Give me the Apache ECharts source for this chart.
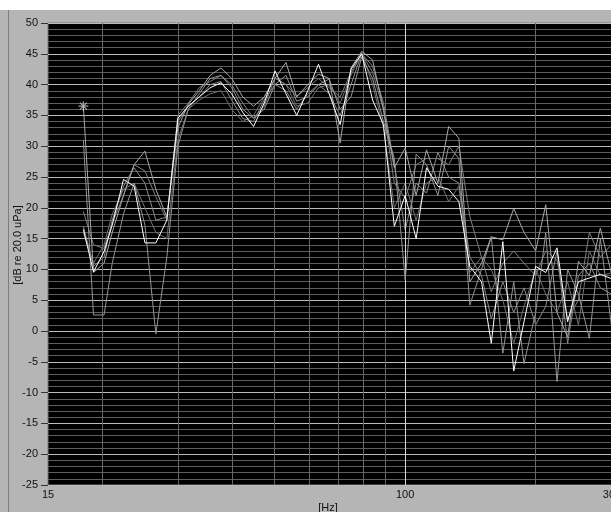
<!DOCTYPE html>
<html>
<head>
<meta charset="utf-8">
<script src="https://cdn.jsdelivr.net/npm/echarts@6/dist/echarts.min.js"></script>
<style>
  html, body { margin: 0; padding: 0; background: #ffffff; }
  #panel { position: absolute; left: 0; top: 10px; width: 611px; height: 502px; background: #b5b5b5; }
  #edge { position: absolute; left: 8px; top: 10px; width: 1px; height: 502px; background: #7d7d7d; }
  #chart { position: absolute; left: 0; top: 0; width: 611px; height: 512px; }
</style>
</head>
<body>
<div id="panel"></div>
<div id="edge"></div>
<div id="chart"></div>
<script>
// Band centre frequencies [Hz]
const freqs = [18.1, 19.1, 20.2, 21.1, 22.4, 23.7, 25.1, 26.6, 28.2, 29.9,
               31.6, 33.5, 35.5, 37.6, 39.8, 42.2, 44.7, 47.3, 50.1, 53.1,
               56.2, 59.6, 63.1, 66.8, 70.8, 75.0, 79.4, 84.1, 89.1, 94.4,
               100, 106, 112, 119, 126, 133, 141, 150, 158, 168,
               178, 188, 200, 211, 224, 237, 251, 266, 282, 299];

// Levels [dB re 20.0 uPa], one array per measurement
const avgLevel = [16.5, 9.6, 12.9, 17.2, 24.6, 23.5, 14.3, 14.3, 18, 34.5,
                  36.5, 38, 39.5, 40.3, 38.5, 35.5, 33.2, 37, 42.2, 38.5,
                  35, 39, 43.3, 38.5, 33.5, 42.5, 45, 37.5, 33.5, 17,
                  22, 15, 26.5, 23.5, 23, 21, 10.5, 8, -2, 14.5,
                  -6.5, 1.5, 10.5, 9.5, 13.5, 1.5, 8, 8.6, 9.2, 8.5];

const run1 = [36.5, 9.5, 11, 16, 22, 27, 29.2, 23, 18.5, 33,
              36.8, 39, 41.5, 42.7, 41, 38, 36.5, 38, 41, 43.6,
              38, 40, 41.7, 41, 30.5, 42.7, 45.4, 44, 36, 26.5,
              29.7, 22, 29.4, 24, 33.2, 31.3, 8, 11, 15.3, 14.8,
              19.9, 16, 13, 20.5, 3, -1, 11.3, 9, 16.7, 9.4];

const run2 = [31, 2.6, 2.6, 11, 19, 24, 17.2, -0.5, 12, 30,
              36, 38.5, 41, 41.5, 39.5, 36, 34.5, 36, 40, 41.5,
              37.3, 38, 40, 40.9, 36, 38, 44.5, 41, 34, 28,
              8.3, 28.7, 27, 22, 30, 28, 4.2, 10, 15.3, -3.6,
              8, -5.3, 3, 16, -8.2, 10, 6, -1.2, 15, 1];

const run3 = [19.4, 14, 13.4, 17.5, 22, 27, 26, 21.8, 18, 35,
              37, 39.5, 40.5, 41.5, 40, 37, 34.6, 36.5, 41.1, 40,
              38.1, 39.5, 41, 39.5, 38, 42, 45, 42, 36, 24,
              21.6, 27, 28, 28, 27, 30, 18.6, 12, 6.4, 11,
              13, 11, 9, 13, 11.5, 2, 5, 16, 12, 14];

const run4 = [17, 10.5, 12, 18, 23.5, 26.5, 24, 18, 18.5, 34,
              36.5, 38, 40, 40.5, 37.5, 34.5, 34, 37.5, 40, 39,
              36, 38.5, 40, 38.5, 35, 40, 45, 43, 37, 27,
              16.4, 24, 22.4, 29, 25, 24, 12, 9, 2, 8,
              3, 7, 1, 4, 13, -2, 9, 11, 7, 6];

const run5 = [16, 11, 14, 19, 23, 24, 20, 16, 15, 31,
              36, 37.5, 38.5, 39, 36, 34, 35, 38, 41, 40,
              36.5, 37, 39.5, 40, 37, 41.5, 45.2, 40, 33, 20,
              24, 18, 24, 25, 21, 23.5, 9.5, 12, 10, 5,
              -2, 4, 10, 6, 3, 8, 1, 13, 9, 9.4];

// y tick labels and extra (non-decade) vertical grid frequencies
const yTicks = [-25, -20, -15, -10, -5, 0, 5, 10, 15, 20, 25, 30, 35, 40, 45, 50];
const vGrid = [20, 30, 40, 50, 60, 70, 80, 90, 200];
const decadeGrid = [100];

const pairs = arr => freqs.map((f, i) => [f, arr[i]]);

const traces = [
  { data: run5, color: '#6f6f6f' },
  { data: run4, color: '#8a8a8a' },
  { data: run3, color: '#7e7e7e' },
  { data: run2, color: '#939393' },
  { data: run1, color: '#a6a6a6' },
  { data: avgLevel, color: '#ffffff' }
];

const asterisk = 'path://M-5,-0.6L5,-0.6L5,0.6L-5,0.6Z M-0.6,-5L0.6,-5L0.6,5L-0.6,5Z ' +
  'M-3.9,-3.1L-3.1,-3.9L3.9,3.1L3.1,3.9Z M3.1,-3.9L3.9,-3.1L-3.1,3.9L-3.9,3.1Z';

const series = [];
series.push({
  type: 'line', data: [], silent: true, z: 1,
  markLine: {
    silent: true, symbol: 'none', animation: false,
    label: { show: false },
    lineStyle: { type: 'solid', width: 1, color: '#666666' },
    data: vGrid.map(v => ({ xAxis: v }))
      .concat(decadeGrid.map(v => ({ xAxis: v, lineStyle: { color: '#d8d8d8', type: 'solid', width: 1 } })))
  }
});
traces.forEach((t, k) => {
  series.push({
    type: 'line', data: pairs(t.data), symbol: 'none', z: 3 + k,
    lineStyle: { color: t.color, width: 1 }, animation: false
  });
});
series.push({
  type: 'scatter', data: [[freqs[0], run1[0]]], symbol: asterisk, symbolSize: 10,
  itemStyle: { color: '#c8c8c8' }, z: 20, animation: false
});

const chart = echarts.init(document.getElementById('chart'), null, { renderer: 'canvas' });
chart.setOption({
  animation: false,
  backgroundColor: 'transparent',
  grid: {
    left: 48, top: 23, right: -1, bottom: 27,
    outerBoundsMode: 'none', containLabel: false,
    show: true, backgroundColor: '#000000', borderColor: '#7a7a7a', borderWidth: 1
  },
  xAxis: {
    type: 'log', logBase: 10, min: 15, max: 300,
    axisLine: { show: false },
    axisTick: { show: true, length: 5, lineStyle: { color: '#333333' } },
    axisLabel: {
      showMinLabel: true, showMaxLabel: true,
      color: '#111111', fontFamily: 'Liberation Sans', fontSize: 11, margin: 4,
      formatter: v => String(Math.round(v))
    },
    splitLine: { show: false },
    name: '[Hz]', nameLocation: 'middle', nameGap: 17, nameMoveOverlap: false,
    nameTextStyle: { color: '#111111', fontFamily: 'Liberation Sans', fontSize: 11, padding: [0, 0, 0, -4] }
  },
  yAxis: {
    type: 'value', min: yTicks[0], max: yTicks[yTicks.length - 1], interval: 5,
    axisLine: { show: false },
    axisTick: { show: true, length: 7, lineStyle: { color: '#333333' } },
    axisLabel: { color: '#111111', fontFamily: 'Liberation Sans', fontSize: 11, margin: 10 },
    splitLine: { lineStyle: { color: '#bcbcbc', width: 1 } },
    minorTick: { show: false, splitNumber: 5 },
    minorSplitLine: { show: true, lineStyle: { color: '#5e5e5e', width: 1 } },
    name: '[dB re 20.0 uPa]', nameLocation: 'middle', nameGap: 25, nameRotate: 90, nameMoveOverlap: false,
    nameTextStyle: { color: '#111111', fontFamily: 'Liberation Sans', fontSize: 11, padding: [0, 0, 0, 18] }
  },
  series: series
});
</script>
</body>
</html>
